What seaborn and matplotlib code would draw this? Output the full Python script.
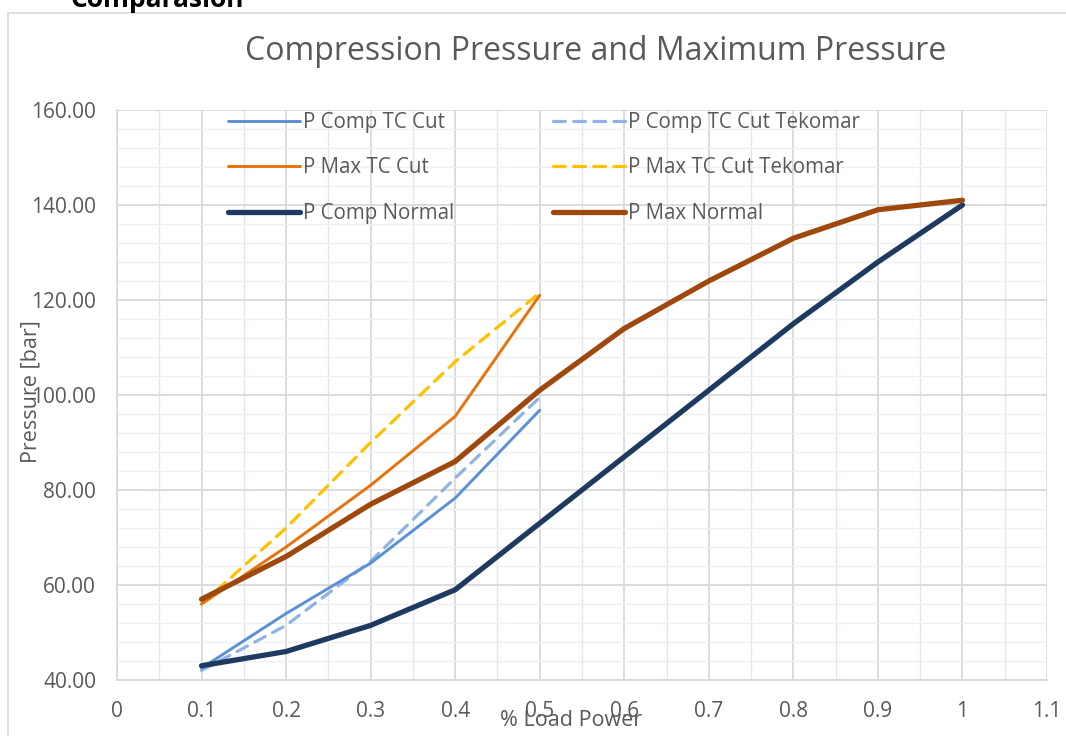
import matplotlib
matplotlib.use("Agg")
import matplotlib.pyplot as plt
from matplotlib.patches import Rectangle
from matplotlib.ticker import MultipleLocator, FixedLocator, FuncFormatter
import pandas as pd
import seaborn as sns

# Engine load fractions
load_full = [0.1, 0.2, 0.3, 0.4, 0.5, 0.6, 0.7, 0.8, 0.9, 1.0]
load_cut = [0.1, 0.2, 0.3, 0.4, 0.5]

# Pressures in bar
p_comp_tc_cut = [42.5, 54.0, 64.6, 78.3, 96.8]
p_comp_tc_cut_tekomar = [42.0, 51.5, 65.0, 82.5, 99.5]
p_max_tc_cut = [56.0, 68.0, 81.0, 95.5, 121.0]
p_max_tc_cut_tekomar = [56.0, 72.0, 90.0, 107.0, 121.5]
p_comp_normal = [43.0, 46.0, 51.5, 59.0, 73.0, 87.0, 101.0, 115.0, 128.0, 140.0]
p_max_normal = [57.0, 66.0, 77.0, 86.0, 101.0, 114.0, 124.0, 133.0, 139.0, 141.0]

x_ticks = [0, 0.1, 0.2, 0.3, 0.4, 0.5, 0.6, 0.7, 0.8, 0.9, 1, 1.1]
y_ticks = [40, 60, 80, 100, 120, 140, 160]

sns.set_theme(style="white")
plt.rcParams["font.family"] = ["Open Sans", "DejaVu Sans"]
plt.rcParams["lines.scale_dashes"] = False

TEXT = "#595959"
GRID_MAJOR = "#d9d9d9"
W, H = 1066, 736

fig = plt.figure(figsize=(W / 100, H / 100), dpi=100)
fig.patch.set_facecolor("white")
ax = fig.add_axes([117 / W, 56 / H, 930 / W, 570 / H])

# series: (label, x, y, color, linewidth, dashed)
series = [
    ("P Comp TC Cut", load_cut, p_comp_tc_cut, "#5b8fd6", 2.1, False),
    ("P Max TC Cut", load_cut, p_max_tc_cut, "#e8720c", 2.1, False),
    ("P Comp Normal", load_full, p_comp_normal, "#1f3a60", 3.8, False),
    ("P Comp TC Cut Tekomar", load_cut, p_comp_tc_cut_tekomar, "#8fb4e3", 2.3, True),
    ("P Max TC Cut Tekomar", load_cut, p_max_tc_cut_tekomar, "#ffc000", 2.3, True),
    ("P Max Normal", load_full, p_max_normal, "#9e480e", 3.8, False),
]
draw_order = [3, 0, 4, 1, 2, 5]

handles = {}
for i in draw_order:
    label, xs, ys, color, lw, dashed = series[i]
    df = pd.DataFrame({"load": xs, "pressure": ys})
    sns.lineplot(data=df, x="load", y="pressure", ax=ax, color=color,
                 linewidth=lw, label=label, legend=False,
                 solid_capstyle="round", solid_joinstyle="round")
    line = ax.lines[-1]
    if dashed:
        line.set_dashes((8.5, 6))
        line.set_dash_capstyle("round")
    handles[i] = line

ax.set_xlim(0, 1.1)
ax.set_ylim(40, 160)
ax.xaxis.set_major_locator(FixedLocator(x_ticks))
ax.xaxis.set_major_formatter(FuncFormatter(lambda v, p: f"{round(v, 2):g}"))
ax.xaxis.set_minor_locator(MultipleLocator(0.05))
ax.yaxis.set_major_locator(FixedLocator(y_ticks))
ax.yaxis.set_major_formatter(FuncFormatter(lambda v, p: f"{v:.2f}"))
ax.yaxis.set_minor_locator(MultipleLocator(4))

ax.grid(which="major", color=GRID_MAJOR, linewidth=1.3)
ax.grid(which="minor", axis="x", color="#dce6f4", linewidth=1.0)
ax.grid(which="minor", axis="y", color="#efefef", linewidth=1.0)
ax.set_axisbelow(True)
for side in ["top", "right"]:
    ax.spines[side].set_visible(False)
for side in ["left", "bottom"]:
    ax.spines[side].set_color(GRID_MAJOR)
    ax.spines[side].set_linewidth(1.3)

ax.tick_params(axis="both", which="both", length=0, colors=TEXT, labelsize=15)
ax.tick_params(axis="x", pad=15)
ax.tick_params(axis="y", pad=15)

ax.set_xlabel("% Load Power", color=TEXT, fontsize=15.5, va="center")
ax.xaxis.set_label_coords((571 - 117) / 930, -(720 - 680) / 570)
ax.set_ylabel("Pressure [bar]", color=TEXT, fontsize=15.5, va="center")
ax.yaxis.set_label_coords((31 - 117) / 930, (680 - 392) / 570)

fig.text(596 / W, 1 - 52 / H, "Compression Pressure and Maximum Pressure",
         color=TEXT, fontsize=23, ha="center", va="center")

leg = ax.legend([handles[i] for i in range(6)],
                [series[i][0] for i in range(6)],
                ncol=2, loc="upper left", bbox_to_anchor=(0.119, 0.997),
                borderaxespad=0, borderpad=0,
                frameon=False, fontsize=14.8, handlelength=3.5,
                handletextpad=0.15, labelspacing=1.2, columnspacing=4.8)
for t in leg.get_texts():
    t.set_color(TEXT)

fig.add_artist(Rectangle((8 / W, -0.05), 1.2, 723 / H + 0.05,
                         transform=fig.transFigure, fill=False,
                         edgecolor=GRID_MAJOR, linewidth=1.2, zorder=0))
fig.text(70 / W, 1 - 7 / H, "Comparasion", fontweight="bold",
         fontsize=19, color="black", va="baseline", ha="left")

fig.savefig("out.png", dpi=100, facecolor="white")
